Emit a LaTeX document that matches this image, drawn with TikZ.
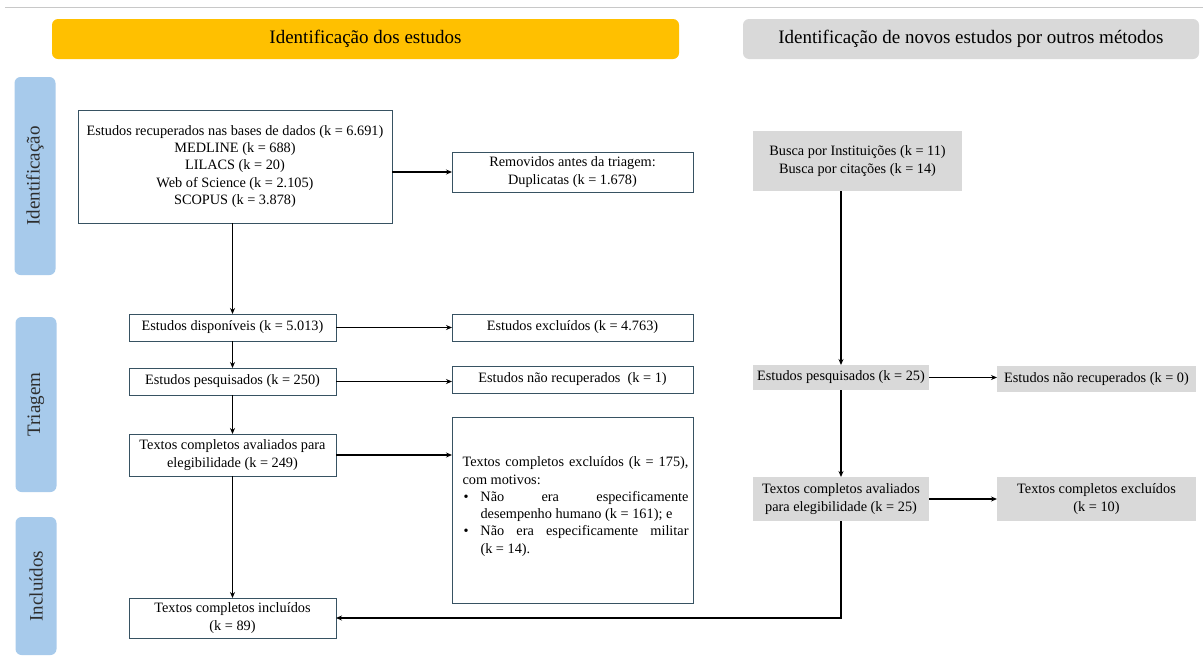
\documentclass[tikz,border=0pt]{standalone}
\usepackage{fontspec}
\setmainfont{Liberation Serif}
\usetikzlibrary{arrows.meta}
\definecolor{hdryellow}{RGB}{255,192,0}
\definecolor{hdrgray}{RGB}{217,217,217}
\definecolor{tabblue}{RGB}{167,202,235}
\definecolor{boxline}{RGB}{55,82,98}
\definecolor{rulegray}{RGB}{200,200,200}
\definecolor{tabtext}{RGB}{45,45,45}
\newcommand{\bulletmark}{\makebox[18pt][l]{\hspace{1pt}•}}
\begin{document}
\begin{tikzpicture}[x=1pt,y=-1pt,
  every node/.style={font=\fontsize{14.3}{17.3}\selectfont, inner sep=0pt, outer sep=0pt},
  wbox/.style={draw=boxline, line width=0.9pt, fill=white, align=center},
  gbox/.style={fill=hdrgray, align=center},
  tab/.style={fill=tabblue, rounded corners=6pt, minimum height=41pt, text=tabtext, font=\fontsize{19}{22}\selectfont, rotate=90},
  hdr/.style={rounded corners=6pt, minimum height=40pt, font=\fontsize{19}{22}\selectfont},
  arr/.style={line width=1.6pt, -{Stealth[length=6pt,width=5pt]}}]
\useasboundingbox (0,0) rectangle (1203,659);
\draw[rulegray, line width=1pt] (5,7) -- (1203,7);

% headers
\node[hdr, fill=hdryellow, minimum width=627pt] (h1) at (365.5,39) {Identificação dos estudos};
\node[hdr, fill=hdrgray, minimum width=456pt] (h2) at (971,39) {Identificação de novos estudos por outros métodos};

% side tabs
\node[tab, minimum width=198pt] (t1) at (35,176) {Identificação};
\node[tab, minimum width=175pt] (t2) at (36,404.5) {Triagem};
\node[tab, minimum width=138pt] (t3) at (36,586) {Incluídos};

% left column
\node[wbox, minimum width=314pt, minimum height=113pt] (b1) at (235,166.5)
  {Estudos recuperados nas bases de dados (k = 6.691)\\ MEDLINE (k = 688)\\ LILACS (k = 20)\\ Web of Science (k = 2.105)\\ SCOPUS (k = 3.878)};
\node[wbox, minimum width=241pt, minimum height=40pt] (rem) at (572.5,172)
  {Removidos antes da triagem:\\ Duplicatas (k = 1.678)};
\node[wbox, minimum width=207pt, minimum height=27pt] (disp) at (232.5,327.5) {Estudos disponíveis (k = 5.013)};
\node[wbox, minimum width=241pt, minimum height=27pt] (excl) at (572.5,327.5) {Estudos excluídos (k = 4.763)};
\node[wbox, minimum width=207pt, minimum height=27pt] (pesq) at (232.5,381.5) {Estudos pesquisados (k = 250)};
\node[wbox, minimum width=241pt, minimum height=27pt] (nrec) at (572.5,379.5) {Estudos não recuperados\ \ (k = 1)};
\node[wbox, minimum width=207pt, minimum height=42pt] (aval) at (232.5,455)
  {Textos completos avaliados para\\ elegibilidade (k = 249)};
\node[wbox, minimum width=241pt, minimum height=186pt] (bigex) at (572.5,510) {};
\node[align=left] (bigextxt) at (575.5,506.5)
  {\makebox[226pt][s]{Textos completos excluídos (k = 175),}\\
   com motivos:\\
   \bulletmark\makebox[208pt][s]{Não era especificamente}\\
   \hspace*{18pt}desempenho humano (k = 161); e\\
   \bulletmark\makebox[208pt][s]{Não era especificamente militar}\\
   \hspace*{18pt}(k = 14).};
\node[wbox, minimum width=207pt, minimum height=40pt] (incl) at (232.5,618)
  {Textos completos incluídos\\ (k = 89)};

% right column
\node[gbox, minimum width=209pt, minimum height=60pt] (busca) at (857.5,161)
  {Busca por Instituições (k = 11)\\ Busca por citações (k = 14)};
\node[gbox, minimum width=176pt, minimum height=25pt] (rpesq) at (841,377.5) {Estudos pesquisados (k = 25)};
\node[gbox, minimum width=199pt, minimum height=26pt] (rnrec) at (1096.5,379) {Estudos não recuperados (k = 0)};
\node[gbox, minimum width=176pt, minimum height=44pt] (raval) at (841,499)
  {Textos completos avaliados\\ para elegibilidade (k = 25)};
\node[gbox, minimum width=199pt, minimum height=44pt] (rexc) at (1096.5,499)
  {Textos completos excluídos\\ (k = 10)};

% connectors
\draw[arr] (b1.south -| disp.north) -- (disp.north);
\draw[arr] (b1.east |- rem.west) -- (rem.west);
\draw[arr] (disp.east) -- (excl.west);
\draw[arr] (disp.south) -- (pesq.north);
\draw[arr] (pesq.east) -- (pesq.east -| nrec.west);
\draw[arr] (pesq.south) -- (aval.north);
\draw[arr] (aval.east) -- (aval.east -| bigex.west);
\draw[arr] (aval.south) -- (incl.north);
\draw[arr] (busca.south -| rpesq.north) -- (rpesq.north);
\draw[arr] (rpesq.east) -- (rpesq.east -| rnrec.west);
\draw[arr] (rpesq.south) -- (raval.north);
\draw[arr] (raval.east) -- (raval.east -| rexc.west);
\draw[arr] (raval.south) |- (incl.east);
\end{tikzpicture}
\end{document}
